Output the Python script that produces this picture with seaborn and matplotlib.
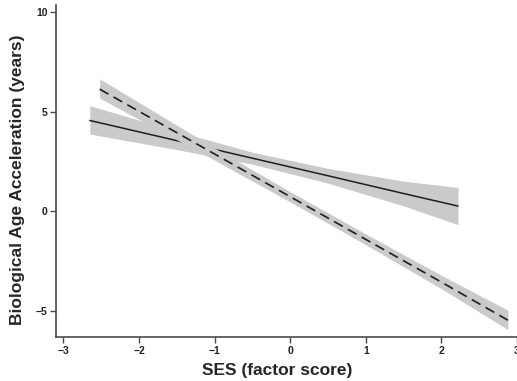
import seaborn as sns
import matplotlib.pyplot as plt
import pandas as pd

# fitted lines (SES factor score vs age acceleration)
solid_x = [-2.65, -1.5, -0.5, 0.5, 1.5, 2.22]
solid_y = [4.56, 3.55, 2.67, 1.79, 0.90, 0.27]
solid_lo = [3.88, 3.10, 2.37, 1.42, 0.28, -0.66]
solid_hi = [5.30, 4.02, 2.97, 2.16, 1.52, 1.20]

dashed_x = [-2.52, -1.0, 0.0, 1.0, 2.0, 2.88]
dashed_y = [6.13, 2.88, 0.74, -1.40, -3.54, -5.45]
dashed_lo = [5.68, 2.57, 0.48, -1.67, -3.87, -5.92]
dashed_hi = [6.65, 3.18, 0.99, -1.13, -3.20, -4.95]

x_ticks = [-3, -2, -1, 0, 1, 2, 3]
y_ticks = [-5, 0, 5, 10]

solid = pd.DataFrame({'x': solid_x, 'y': solid_y, 'lo': solid_lo, 'hi': solid_hi})
dashed = pd.DataFrame({'x': dashed_x, 'y': dashed_y, 'lo': dashed_lo, 'hi': dashed_hi})

sns.set_style('white')
plt.rcParams['font.family'] = ['Liberation Sans', 'DejaVu Sans']

fig = plt.figure(figsize=(5.17, 3.81), dpi=100)
ax = fig.add_axes([0.108, 0.115, 0.892, 0.872])

band = '#cacaca'
ax.fill_between(solid['x'], solid['lo'], solid['hi'], color=band, lw=0, zorder=1)
sns.lineplot(data=solid, x='x', y='y', color='#1e1e1e', lw=1.1, ax=ax, zorder=2)
ax.fill_between(dashed['x'], dashed['lo'], dashed['hi'], color=band, lw=0, zorder=3)
sns.lineplot(data=dashed, x='x', y='y', color='#1e1e1e', lw=1.2, ax=ax, zorder=4,
             dashes=False)
ax.lines[-1].set_dashes([6, 3.5])

ax.set_xlim(-3.1, 3.0)
ax.set_ylim(-6.3, 10.35)
ax.set_xticks(x_ticks)
ax.set_yticks(y_ticks)
ax.set_xticklabels(['\u22123', '\u22122', '\u22121', '0', '1', '2', '3'])
ax.set_yticklabels(['\u22125', '0', '5', '10'])

for side in ['top', 'right']:
    ax.spines[side].set_visible(False)
for side in ['left', 'bottom']:
    ax.spines[side].set_color('#4a4a4a')
    ax.spines[side].set_linewidth(1.2)

ax.tick_params(axis='both', direction='out', length=4, width=1, color='#4a4a4a',
               labelsize=7.5, pad=2, left=True, bottom=True)
for lab in ax.get_xticklabels() + ax.get_yticklabels():
    lab.set_fontweight('bold')
    lab.set_color('#222222')

ax.set_xlabel('SES (factor score)', fontsize=12.5, fontweight='bold')
ax.set_ylabel('Biological Age Acceleration (years)', fontsize=12.5, fontweight='bold')
ax.xaxis.set_label_coords(0.481, -0.078)
ax.yaxis.set_label_coords(-0.066, 0.473)

plt.savefig('out.png', dpi=100)
